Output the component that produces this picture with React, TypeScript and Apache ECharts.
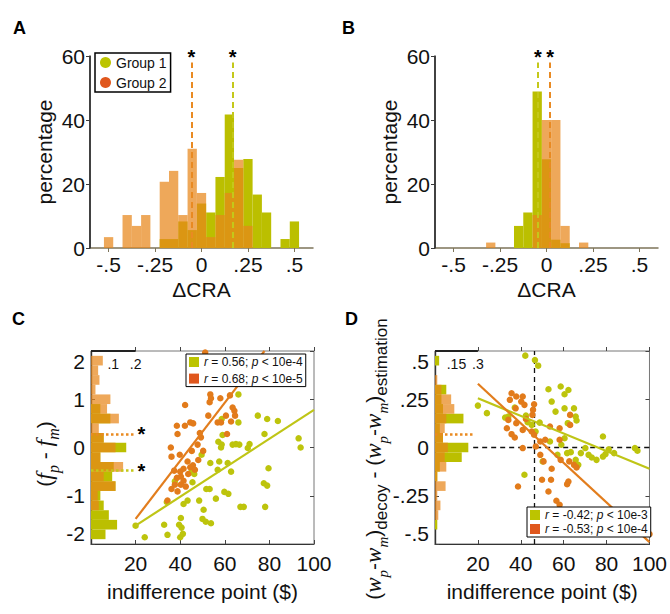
import React, { useEffect, useRef } from 'react';
import * as echarts from 'echarts';

// ---------- data ----------
const binCenters = [-0.5, -0.45, -0.4, -0.35, -0.3, -0.25, -0.2, -0.15, -0.1, -0.05, 0, 0.05, 0.1, 0.15, 0.2, 0.25, 0.3, 0.35, 0.4, 0.45, 0.5];
const group1A = [0, 0, 0, 0, 0, 0, 2.8, 2.8, 8.3, 5.6, 13.9, 11.1, 22.2, 41.7, 25, 27.8, 16.7, 11.1, 0, 2.8, 8.3];
const group2A = [3.4, 0, 10.3, 6.9, 10.3, 0, 20.7, 24.1, 10.3, 31.0, 17.2, 3.4, 10.3, 17.2, 27.6, 6.9, 0, 0, 0, 0, 0];
const group1B = [0, 0, 0, 0, 0, 0, 0, 6.9, 11.1, 48.9, 27.7, 2.6, 1.5, 0, 0, 0, 0, 0, 0, 0, 0];
const group2B = [0, 0, 0, 0, 1.7, 0, 0, 0, 0, 10.3, 40, 40, 6.9, 0, 1.7, 0, 0, 0, 0, 0, 0];
const mediansA = [0.168, -0.055]; // group 1, group 2
const mediansB = [-0.047, 0.02];
const medianTop = 58;
const craRange = [-0.6, 0.6];
const pctRange = [0, 60];

const histBinsC = [1.8, 1.6, 1.4, 1.2, 1.0, 0.8, 0.6, 0.4, 0.2, 0, -0.2, -0.4, -0.6, -0.8, -1.0, -1.2, -1.4, -1.6, -1.8];
const histGreenC = [0, 0, 0, 0, 0, 0.042, 0.087, 0, 0.057, 0.158, 0.042, 0.102, 0.095, 0.11, 0.042, 0.057, 0.08, 0.117, 0.065];
const histOrangeC = [0.053, 0.032, 0.038, 0.02, 0.087, 0.072, 0.125, 0.035, 0.057, 0.11, 0.042, 0.144, 0.057, 0.11, 0.03, 0.035, 0, 0, 0];
const histMediansC = [-0.48, 0.276]; // green, orange
const histLineEndC = 0.2;

const histBinsD = [0.45, 0.4, 0.35, 0.3, 0.25, 0.2, 0.15, 0.1, 0.05, 0, -0.05, -0.1, -0.15, -0.2, -0.25, -0.3, -0.35, -0.4];
const histGreenD = [0.029, 0, 0, 0.079, 0.045, 0.056, 0.199, 0.034, 0.056, 0.233, 0.187, 0.034, 0.016, 0, 0, 0, 0, 0.016];
const histOrangeD = [0, 0, 0.016, 0.045, 0.113, 0.135, 0.079, 0.068, 0.056, 0.09, 0.068, 0.079, 0.016, 0.074, 0.016, 0.038, 0.023, 0];
const histMedianD = 0.069;
const histLineEndD = 0.27;

const scatterGreenC = [
  [66.1, 1.10], [58.6, 0.59], [66.1, 0.52], [74.8, 0.66], [79.0, 0.59], [83.8, 0.55], [59.0, 0.26], [57.1, 0.12],
  [58.6, 0.06], [58.3, 0.0], [63.5, 0.06], [65.0, 0.07], [66.5, 0.06], [71.1, 0.07], [77.8, 0.28], [93.1, 0.19],
  [94.0, 0.0], [49.6, -0.15], [53.5, -0.32], [57.5, -0.29], [61.3, -0.32], [70.3, -0.01], [79.6, -0.43], [62.8, -0.50],
  [56.8, -0.46], [45.1, -0.50], [46.3, -0.55], [37.6, -0.70], [51.7, -0.86], [53.2, -0.86], [59.8, -0.92], [61.6, -0.96],
  [77.5, -0.74], [79.0, -0.79], [78.1, -1.23], [67.0, -1.23], [68.5, -1.23], [48.5, -1.10], [34.0, -1.13], [43.3, -1.10],
  [41.5, -1.17], [40.3, -1.46], [39.5, -1.60], [40.6, -1.66], [32.8, -1.60], [24.1, -1.86], [20.0, -1.62], [50.0, -1.48],
  [51.5, -1.54], [53.8, -1.57], [50.5, -1.29], [34.3, -1.81], [40.0, -1.86], [41.2, -1.79], [56.0, -1.06], [45.5, -0.72]
];
const scatterOrangeC = [
  [51.2, 1.97], [53.5, 1.10], [53.8, 1.02], [53.2, 0.94], [58.0, 1.02], [62.3, 1.08], [42.2, 0.88], [63.5, 0.83],
  [64.3, 0.76], [60.5, 0.66], [64.6, 0.66], [52.6, 0.66], [38.5, 0.45], [42.1, 0.45], [44.5, 0.52], [45.8, 0.50],
  [56.8, 0.52], [58.3, 0.52], [62.8, 0.54], [48.8, 0.30], [49.3, 0.21], [38.8, 0.28], [61.0, 0.28], [35.8, 0.0],
  [36.1, -0.19], [39.8, -0.15], [45.2, -0.07], [47.8, 0.06], [37.3, -0.48], [40.0, -0.50], [41.5, -0.44], [44.5, -0.41],
  [45.7, -0.37], [46.6, -0.46], [38.5, -0.63], [40.3, -0.60], [41.5, -0.69], [40.3, -0.77], [42.5, -0.81], [37.6, -0.77],
  [36.1, -0.86], [38.8, -0.91], [34.3, -1.10], [48.1, -0.26], [50.3, -0.07], [43.3, -0.29], [43.6, -0.55]
];
const scatterGreenD = [
  [42.1, 0.476], [46.6, 0.453], [48.1, 0.424], [20.0, 0.217], [24.2, 0.178], [52.9, 0.302], [58.6, 0.316], [62.2, 0.298],
  [60.4, 0.276], [54.4, 0.238], [56.2, 0.186], [60.4, 0.203], [64.8, 0.203], [65.6, 0.16], [66.0, 0.14], [61.9, 0.126],
  [32.7, 0.155], [37.2, 0.207], [34.2, 0.16], [42.4, 0.166], [43.2, 0.131], [45.1, 0.117], [48.8, 0.129], [46.9, 0.083],
  [78.3, 0.057], [70.1, -0.003], [75.3, -0.064], [79.5, -0.034], [78.3, -0.047], [83.5, -0.029], [71.6, -0.038], [93.2, -0.003],
  [94.4, -0.017], [65.6, -0.064], [68.0, -0.029], [63.3, -0.024], [61.6, -0.029], [58.9, 0.014], [60.4, 0.048], [41.7, -0.141],
  [50.2, -0.072], [53.6, 0.031], [57.1, -0.038], [73.1, -0.052], [66.8, -0.09], [81.0, -0.01]
];
const scatterOrangeD = [
  [35.7, 0.281], [37.9, 0.264], [40.9, 0.264], [34.9, 0.247], [40.2, 0.238], [41.7, 0.221], [37.6, 0.203], [46.2, 0.224],
  [45.7, 0.195], [45.4, 0.169], [42.4, 0.148], [34.2, 0.143], [37.9, 0.126], [35.7, 0.069], [37.2, 0.052], [40.9, 0.091],
  [45.1, 0.083], [46.2, 0.066], [49.1, 0.031], [51.4, 0.040], [53.6, 0.109], [58.1, 0.1], [63.0, 0.169], [63.0, 0.117],
  [58.1, 0.040], [49.1, -0.038], [50.6, -0.072], [54.4, -0.110], [54.1, -0.167], [49.9, -0.167], [58.6, -0.064], [62.6, -0.072],
  [64.8, -0.090], [66.0, -0.103], [40.9, -0.003], [38.7, -0.202], [61.6, -0.190], [62.2, -0.176], [52.9, -0.228], [56.6, -0.276],
  [58.1, -0.297], [100, -0.448], [33.5, 0.1], [47.0, 0.005]
];
const fitGreenC = [[20, -1.62], [100, 0.78]];
const fitOrangeC = [[20, -1.48], [77.8, 2.0]];
const fitGreenD = [[20, 0.255], [100, -0.11]];
const fitOrangeD = [[20, 0.33], [100, -0.49]];
const refLinesD = { vx: 46.1, hy: 0, hxStart: 17.8, hxEnd: 100 };

const ticksCRA = [-0.5, -0.25, 0, 0.25, 0.5];
const ticksPct = [0, 20, 40, 60];
const ticksIndiff = [20, 40, 60, 80, 100];
const ticksCY = [-2, -1, 0, 1, 2];
const ticksDY = [-0.5, -0.25, 0, 0.25, 0.5];
const histTicksC = [0.1, 0.2];
const histTicksD = [0.15, 0.3];

const legendC = { cg: '{i|r} = 0.56; {i|p} < 10e-4', co: '{i|r} = 0.68; {i|p} < 10e-5' };
const legendD = { dg: '{i|r} = -0.42; {i|p} < 10e-3', do: '{i|r} = -0.53; {i|p} < 10e-4' };

// ---------- style ----------
const FONT = '"Liberation Sans", Arial, Helvetica, sans-serif';
const SERIF = '"Liberation Serif", "Times New Roman", serif';
const GREEN = '#bbbf00';
const ORANGE = '#e7861a';
const OPA = 0.72;
const GREEN_DOT = '#bdc40c';
const ORANGE_DOT = '#e27b1b';
const GREEN_LEG = '#bcc400';
const ORANGE_LEG = '#e0571d';
const TXT = '#111';
const AXIS_DARK = '#3a3a3a';

const fmtDot = (v: number) => {
  if (Math.abs(v) < 1e-9) return '0';
  const s = String(Math.abs(+v.toFixed(4))).replace(/^0(?=\.)/, '');
  return (v < 0 ? '-' : '') + s;
};

const empty = { type: 'group', children: [] };
const vBars = (w: number, color: string, opacity: number) => (_p: any, api: any) => {
  const c = api.value(0), v = api.value(1);
  if (!v) return empty;
  const a = api.coord([c - w / 2, v]);
  const b = api.coord([c + w / 2, 0]);
  return { type: 'rect', shape: { x: a[0], y: a[1], width: b[0] - a[0], height: b[1] - a[1] }, style: { fill: color, opacity } };
};
const hBars = (h: number, color: string, opacity: number) => (_p: any, api: any) => {
  const v = api.value(0), c = api.value(1);
  if (!v) return empty;
  const a = api.coord([0, c + h / 2]);
  const b = api.coord([v, c - h / 2]);
  return { type: 'rect', shape: { x: a[0], y: a[1], width: b[0] - a[0], height: b[1] - a[1] }, style: { fill: color, opacity } };
};

const starLabel = { show: true, position: 'end', formatter: '{b}', fontSize: 20, fontWeight: 'bold', color: '#000', fontFamily: FONT, distance: -5 };

function medianLines(xs: number[], colors: string[]) {
  const lines: any[] = xs.map((x, i) => [
    { coord: [x, 0], name: '*', lineStyle: { color: colors[i], type: [6, 4], width: 2 } },
    { coord: [x, medianTop] }
  ]);
  // left axis line of the histogram panel
  lines.push([
    { coord: [craRange[0], pctRange[0]], name: '', lineStyle: { color: AXIS_DARK, type: 'solid', width: 1.6 } },
    { coord: [craRange[0], pctRange[1]] }
  ]);
  return lines;
}

function histAxis(grid: number, max: number, ticks: number[]) {
  return {
    gridIndex: grid, type: 'value', position: 'top', min: 0, max,
    axisLine: { show: false, onZero: false }, axisTick: { show: false }, splitLine: { show: false },
    axisLabel: { inside: true, customValues: ticks, formatter: fmtDot, fontSize: 14, color: TXT, fontFamily: FONT, margin: 6 }
  };
}
function mirrorX(grid: number) {
  return {
    gridIndex: grid, type: 'value', position: 'top', min: 0, max: 100, interval: 20,
    axisLine: { show: false, onZero: false }, axisLabel: { show: false }, splitLine: { show: false },
    axisTick: { customValues: ticksIndiff, length: 4, lineStyle: { color: '#444' } }
  };
}
function craAxis(grid: number) {
  return {
    gridIndex: grid, type: 'value', min: craRange[0], max: craRange[1],
    axisLine: { onZero: false, lineStyle: { color: '#7d7459', width: 1.5 } },
    axisTick: { customValues: ticksCRA, length: 4, lineStyle: { color: '#7d7459' } },
    axisLabel: { customValues: ticksCRA, formatter: fmtDot, margin: 6, fontSize: 21, color: TXT, fontFamily: FONT },
    splitLine: { show: false },
    name: 'ΔCRA', nameLocation: 'middle', nameGap: 31,
    nameTextStyle: { fontSize: 21, color: TXT, fontFamily: FONT }
  };
}
function indiffAxis(grid: number) {
  return {
    gridIndex: grid, type: 'value', min: 0, max: 100, interval: 20,
    axisLine: { onZero: false, lineStyle: { color: '#333', width: 1.2 } },
    axisTick: { customValues: ticksIndiff, inside: true, length: 4, lineStyle: { color: '#444' } },
    axisLabel: { customValues: ticksIndiff, margin: 9, fontSize: 21, color: TXT, fontFamily: FONT },
    splitLine: { show: false },
    name: 'indifference point ($)', nameLocation: 'middle', nameGap: 37,
    nameTextStyle: { fontSize: 21, color: TXT, fontFamily: FONT }
  };
}
function pctAxis(grid: number) {
  return {
    gridIndex: grid, type: 'value', min: pctRange[0], max: pctRange[1], interval: 20, z: 10,
    axisLine: { show: true, onZero: false, lineStyle: { color: AXIS_DARK, width: 1.6 } },
    axisTick: { show: true, customValues: ticksPct, length: 4, lineStyle: { color: AXIS_DARK } },
    axisLabel: { customValues: ticksPct, margin: 5, fontSize: 21, color: TXT, fontFamily: FONT },
    splitLine: { show: false },
    name: 'percentage', nameLocation: 'middle', nameGap: 35,
    nameTextStyle: { fontSize: 21, color: TXT, fontFamily: FONT }
  };
}
function scatY(grid: number, min: number, max: number, ticks: number[], fmt: any) {
  return {
    gridIndex: grid, type: 'value', min, max,
    axisLine: { show: true, onZero: false, lineStyle: { color: '#333', width: 1.4 } },
    axisTick: { show: true, customValues: ticks, inside: true, length: 4, lineStyle: { color: '#444' } },
    axisLabel: { customValues: ticks, formatter: fmt, margin: 6, fontSize: 21, color: TXT, fontFamily: FONT, verticalAlignMaxLabel: 'top', verticalAlignMinLabel: 'bottom' },
    splitLine: { show: false }
  };
}
function mirrorY(grid: number, min: number, max: number, ticks: number[]) {
  return {
    gridIndex: grid, type: 'value', position: 'right', min, max,
    axisLine: { show: false, onZero: false }, axisLabel: { show: false }, splitLine: { show: false },
    axisTick: { show: true, customValues: ticks, inside: true, length: 4, lineStyle: { color: '#444' } }
  };
}

function buildOption() {
  const series: any[] = [];
  // Panel A
  series.push({ type: 'custom', name: 'Group 1', xAxisIndex: 0, yAxisIndex: 0, renderItem: vBars(0.05, GREEN, 1), data: binCenters.map((c, i) => [c, group1A[i]]), z: 2 });
  series.push({
    type: 'custom', name: 'Group 2', xAxisIndex: 0, yAxisIndex: 0, renderItem: vBars(0.05, ORANGE, OPA), data: binCenters.map((c, i) => [c, group2A[i]]), z: 3,
    markLine: { silent: true, symbol: 'none', z: 5, label: starLabel, data: medianLines(mediansA, ['#c4c81a', '#e98a22']) }
  });
  // Panel B
  series.push({ type: 'custom', name: 'B1', xAxisIndex: 1, yAxisIndex: 1, renderItem: vBars(0.05, GREEN, 1), data: binCenters.map((c, i) => [c, group1B[i]]), z: 2 });
  series.push({
    type: 'custom', name: 'B2', xAxisIndex: 1, yAxisIndex: 1, renderItem: vBars(0.05, ORANGE, OPA), data: binCenters.map((c, i) => [c, group2B[i]]), z: 3,
    markLine: { silent: true, symbol: 'none', z: 5, label: starLabel, data: medianLines(mediansB, ['#c4c81a', '#e98a22']) }
  });
  // Panel C histogram
  const hLabel = { show: true, position: 'end', formatter: '{b}', fontSize: 20, fontWeight: 'bold', color: '#000', fontFamily: FONT, distance: 2, padding: [12, 0, 0, 0] };
  series.push({
    type: 'custom', name: 'ch1', xAxisIndex: 4, yAxisIndex: 2, renderItem: hBars(0.2, GREEN, 1), data: histBinsC.map((c, i) => [histGreenC[i], c]), z: 2,
    markLine: {
      silent: true, symbol: 'none', z: 5, label: hLabel,
      data: [
        [{ coord: [0, histMediansC[0]], name: '*', lineStyle: { color: '#c4c81a', type: 'dotted', width: 2.5 } }, { coord: [histLineEndC, histMediansC[0]] }],
        [{ coord: [0, 2], name: '', lineStyle: { color: '#222', type: 'solid', width: 2 } }, { coord: [histLineEndC, 2] }]
      ]
    }
  });
  series.push({
    type: 'custom', name: 'ch2', xAxisIndex: 4, yAxisIndex: 2, renderItem: hBars(0.2, ORANGE, OPA), data: histBinsC.map((c, i) => [histOrangeC[i], c]), z: 3,
    markLine: {
      silent: true, symbol: 'none', z: 5, label: hLabel,
      data: [[{ coord: [0, histMediansC[1]], name: '*', lineStyle: { color: '#e98a22', type: 'dotted', width: 2.5 } }, { coord: [histLineEndC, histMediansC[1]] }]]
    }
  });
  // Panel C scatter + fits
  series.push({ type: 'scatter', name: 'cg', xAxisIndex: 2, yAxisIndex: 2, data: scatterGreenC, symbolSize: 6.5, itemStyle: { color: GREEN_DOT, opacity: 1 }, z: 4 });
  series.push({ type: 'scatter', name: 'co', xAxisIndex: 2, yAxisIndex: 2, data: scatterOrangeC, symbolSize: 6.5, itemStyle: { color: ORANGE_DOT, opacity: 1 }, z: 4 });
  series.push({ type: 'line', name: 'cfg', xAxisIndex: 2, yAxisIndex: 2, data: fitGreenC, symbol: 'none', lineStyle: { color: '#bfc516', width: 2.2 }, z: 5 });
  series.push({ type: 'line', name: 'cfo', xAxisIndex: 2, yAxisIndex: 2, data: fitOrangeC, symbol: 'none', lineStyle: { color: '#e27d1d', width: 2.2 }, z: 5 });
  // Panel D histogram
  series.push({
    type: 'custom', name: 'dh1', xAxisIndex: 5, yAxisIndex: 3, renderItem: hBars(0.05, GREEN, 1), data: histBinsD.map((c, i) => [histGreenD[i], c]), z: 2,
    markLine: {
      silent: true, symbol: 'none', z: 5, label: { show: false },
      data: [[{ coord: [0, 0.5], lineStyle: { color: '#222', type: 'solid', width: 2 } }, { coord: [0.3, 0.5] }]]
    }
  });
  series.push({
    type: 'custom', name: 'dh2', xAxisIndex: 5, yAxisIndex: 3, renderItem: hBars(0.05, ORANGE, OPA), data: histBinsD.map((c, i) => [histOrangeD[i], c]), z: 3,
    markLine: {
      silent: true, symbol: 'none', z: 5, label: { show: false },
      data: [[{ coord: [0, histMedianD], lineStyle: { color: '#e98a22', type: 'dotted', width: 2.5 } }, { coord: [histLineEndD, histMedianD] }]]
    }
  });
  // Panel D scatter + fits
  series.push({
    type: 'scatter', name: 'dg', xAxisIndex: 3, yAxisIndex: 3, data: scatterGreenD, symbolSize: 6.5, itemStyle: { color: GREEN_DOT, opacity: 1 }, z: 4,
    markLine: {
      silent: true, symbol: 'none', z: 3, label: { show: false }, lineStyle: { type: [5, 4], color: '#111', width: 1.3 },
      data: [{ xAxis: refLinesD.vx }, [{ coord: [refLinesD.hxStart, refLinesD.hy] }, { coord: [refLinesD.hxEnd, refLinesD.hy] }]]
    }
  });
  series.push({ type: 'scatter', name: 'do', xAxisIndex: 3, yAxisIndex: 3, data: scatterOrangeD, symbolSize: 6.5, itemStyle: { color: ORANGE_DOT, opacity: 1 }, z: 4 });
  series.push({ type: 'line', name: 'dfg', xAxisIndex: 3, yAxisIndex: 3, data: fitGreenD, symbol: 'none', lineStyle: { color: '#bfc516', width: 2.2 }, z: 5 });
  series.push({ type: 'line', name: 'dfo', xAxisIndex: 3, yAxisIndex: 3, data: fitOrangeD, symbol: 'none', lineStyle: { color: '#e27d1d', width: 2.2 }, z: 5 });

  const legBase = { orient: 'vertical', backgroundColor: '#fff', borderColor: '#000', selectedMode: false, z: 20 };
  const richIt = { i: { fontStyle: 'italic', fontSize: 12, fontFamily: FONT, color: TXT } };

  return {
    animation: false,
    backgroundColor: '#fff',
    grid: [
      { left: 90, top: 56, width: 223, height: 192 },
      { left: 435, top: 56, width: 223, height: 192 },
      { left: 91, top: 351, width: 223, height: 193, show: true, borderColor: '#777', borderWidth: 1 },
      { left: 435, top: 351, width: 223, height: 193, show: true, borderColor: '#777', borderWidth: 1 }
    ],
    xAxis: [craAxis(0), craAxis(1), indiffAxis(2), indiffAxis(3), histAxis(2, 1, histTicksC), histAxis(3, 1.5, histTicksD), mirrorX(2), mirrorX(3)],
    yAxis: [pctAxis(0), pctAxis(1), scatY(2, -2, 2, ticksCY, (v: number) => String(v)), scatY(3, -0.5, 0.5, ticksDY, fmtDot), mirrorY(2, -2, 2, ticksCY), mirrorY(3, -0.5, 0.5, ticksDY)],
    legend: [
      {
        ...legBase, left: 95, top: 53, borderWidth: 1.5, padding: [1, 4, 1, 5], itemGap: 3, itemWidth: 11, itemHeight: 11,
        textStyle: { fontSize: 14, lineHeight: 17, color: TXT, fontFamily: FONT },
        data: [
          { name: 'Group 1', icon: 'circle', itemStyle: { color: GREEN_LEG } },
          { name: 'Group 2', icon: 'circle', itemStyle: { color: ORANGE_LEG } }
        ]
      },
      {
        ...legBase, left: 186, top: 354, borderWidth: 1, padding: [1, 3, 1, 3], itemGap: 2.6, itemWidth: 10, itemHeight: 10,
        textStyle: { fontSize: 12, lineHeight: 14, color: TXT, fontFamily: FONT, rich: richIt },
        formatter: (n: string) => (legendC as any)[n],
        data: [
          { name: 'cg', icon: 'rect', itemStyle: { color: GREEN_LEG } },
          { name: 'co', icon: 'rect', itemStyle: { color: ORANGE_LEG } }
        ]
      },
      {
        ...legBase, left: 527, top: 507, borderWidth: 1, padding: [1, 3, 1, 3], itemGap: 0, itemWidth: 10, itemHeight: 10,
        textStyle: { fontSize: 12, lineHeight: 14, color: TXT, fontFamily: FONT, rich: { i: { ...richIt.i, lineHeight: 14 } } },
        formatter: (n: string) => (legendD as any)[n],
        data: [
          { name: 'dg', icon: 'rect', itemStyle: { color: GREEN_LEG } },
          { name: 'do', icon: 'rect', itemStyle: { color: ORANGE_LEG } }
        ]
      }
    ],
    graphic: [
      { type: 'text', x: 13, y: 19, style: { text: 'A', fontSize: 18, fontWeight: 'bold', fontFamily: FONT, fill: '#000' } },
      { type: 'text', x: 342, y: 19, style: { text: 'B', fontSize: 18, fontWeight: 'bold', fontFamily: FONT, fill: '#000' } },
      { type: 'text', x: 12, y: 310, style: { text: 'C', fontSize: 18, fontWeight: 'bold', fontFamily: FONT, fill: '#000' } },
      { type: 'text', x: 345, y: 310, style: { text: 'D', fontSize: 18, fontWeight: 'bold', fontFamily: FONT, fill: '#000' } },
      {
        type: 'text', x: 44, y: 454, rotation: Math.PI / 2,
        style: {
          text: '{n|(}{f|f}{s|p}{n| - }{f|f}{s|m}{n|)}', align: 'center', verticalAlign: 'middle', fill: TXT,
          rich: {
            n: { fontFamily: FONT, fontSize: 21, lineHeight: 34, fill: TXT },
            f: { fontFamily: SERIF, fontStyle: 'italic', fontSize: 24, lineHeight: 34, fill: TXT },
            s: { fontFamily: SERIF, fontStyle: 'italic', fontSize: 16, verticalAlign: 'bottom', fill: TXT }
          }
        }
      },
      {
        type: 'text', x: 373, y: 459, rotation: Math.PI / 2,
        style: {
          text: '{n|(}{w|w}{s|p}{n|-}{w|w}{s|m}{n|)}{d|decoy}{n| - (}{w|w}{s|p}{n|-}{w|w}{s|m}{n|)}{d|estimation}',
          align: 'center', verticalAlign: 'middle', fill: TXT,
          rich: {
            n: { fontFamily: FONT, fontSize: 21, lineHeight: 34, fill: TXT },
            w: { fontFamily: SERIF, fontStyle: 'italic', fontSize: 23, lineHeight: 34, fill: TXT },
            s: { fontFamily: SERIF, fontStyle: 'italic', fontSize: 15, verticalAlign: 'bottom', fill: TXT },
            d: { fontFamily: FONT, fontSize: 17, verticalAlign: 'bottom', fill: TXT }
          }
        }
      }
    ],
    series
  };
}

export default function App() {
  const ref = useRef<HTMLDivElement>(null);
  useEffect(() => {
    if (!ref.current) return;
    const chart = echarts.init(ref.current, null, { renderer: 'svg' });
    chart.setOption(buildOption() as any);
    return () => chart.dispose();
  }, []);
  return <div ref={ref} style={{ position: 'fixed', left: 0, top: 0, width: 670, height: 614, background: '#fff' }} />;
}
